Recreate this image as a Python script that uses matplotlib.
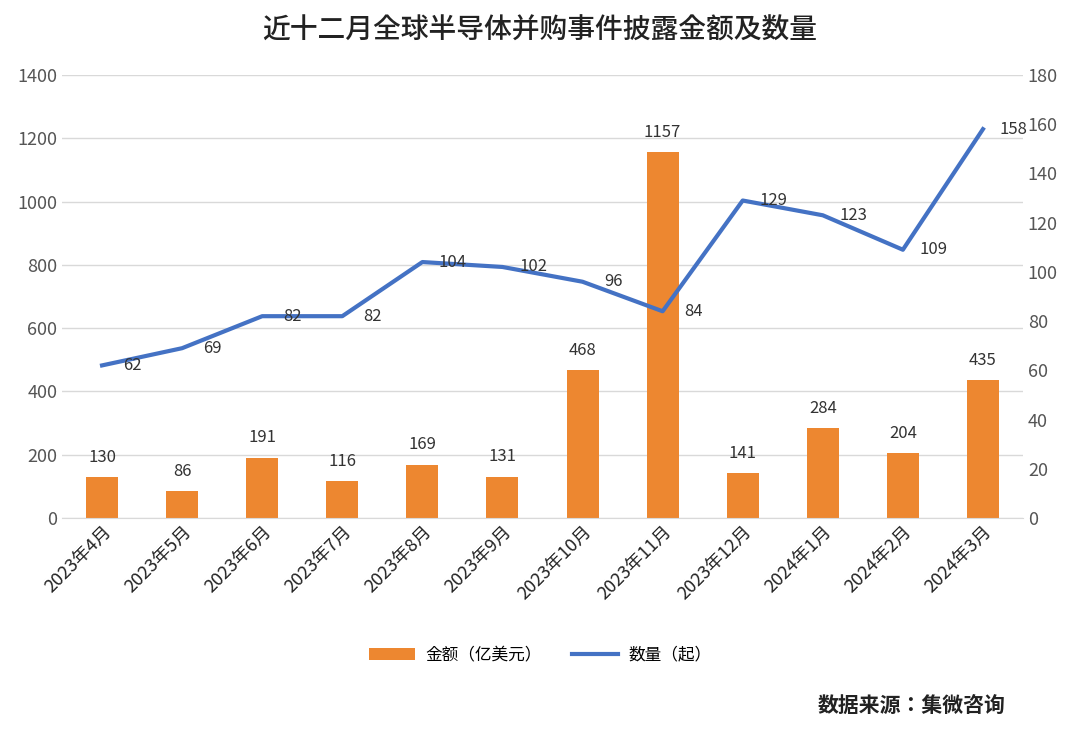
import matplotlib
matplotlib.use("Agg")
import matplotlib.pyplot as plt
from matplotlib import font_manager as fm
import glob

for f in glob.glob("/usr/share/fonts/**/*CJK*", recursive=True) + glob.glob("/usr/share/fonts/**/*cjk*", recursive=True):
    try:
        fm.fontManager.addfont(f)
    except Exception:
        pass
names = sorted({f.name for f in fm.fontManager.ttflist if "CJK" in f.name})
cjk = next((n for n in names if "SC" in n), names[0] if names else "DejaVu Sans")
plt.rcParams["font.family"] = [cjk, "DejaVu Sans"]
plt.rcParams["font.sans-serif"] = [cjk, "DejaVu Sans"]

categories = ["2023年4月","2023年5月","2023年6月","2023年7月","2023年8月","2023年9月",
              "2023年10月","2023年11月","2023年12月","2024年1月","2024年2月","2024年3月"]
amounts = [130, 86, 191, 116, 169, 131, 468, 1157, 141, 284, 204, 435]
counts = [62, 69, 82, 82, 104, 102, 96, 84, 129, 123, 109, 158]

fig = plt.figure(figsize=(10.8, 7.29), dpi=100)
ax = fig.add_axes([62/1080, 1-518/729, (1023-62)/1080, (518-75)/729])
ax2 = ax.twinx()
x = range(len(categories))
ax.bar(x, amounts, width=0.4, color="#ED8730", zorder=2, label="金额（亿美元）")
for i, v in enumerate(amounts):
    ax.annotate(str(v), (i, v), xytext=(0, 8), textcoords="offset points",
                ha="center", va="bottom", fontsize=12, color="#333333")
ax2.plot(x, counts, color="#4472C4", lw=3, zorder=3, label="数量（起）")
for i, v in enumerate(counts):
    ax2.annotate(str(v), (i, v), xytext=(22, 0), textcoords="offset points",
                 ha="center", va="center", fontsize=12, color="#333333")
ax.set_ylim(0, 1400); ax.set_yticks(range(0, 1401, 200))
ax2.set_ylim(0, 180); ax2.set_yticks(range(0, 181, 20))
ax.set_xlim(-0.5, 11.5)
ax.set_xticks(list(x))
ax.set_xticklabels(categories, rotation=45, ha="right", rotation_mode="anchor", fontsize=12)
ax.grid(axis="y", color="#D9D9D9", lw=1, zorder=0)
for a in (ax, ax2):
    for s in a.spines.values():
        s.set_visible(False)
    a.tick_params(length=0, labelsize=13, colors="#555555")
ax.tick_params(axis="x", colors="#222222")
ax.spines["bottom"].set_visible(True); ax.spines["bottom"].set_color("#D9D9D9")
h1, l1 = ax.get_legend_handles_labels()
h2, l2 = ax2.get_legend_handles_labels()
fig.legend(h1 + h2, l1 + l2, loc="center", bbox_to_anchor=(0.5, 1-655/729), ncol=2,
           frameon=False, fontsize=12, handlelength=2.8, handletextpad=0.6, columnspacing=1.8)
fig.text(0.5, 1-30/729, "近十二月全球半导体并购事件披露金额及数量", ha="center", va="center",
         fontsize=20, fontweight="medium", color="#222222")
fig.text(1005/1080, 1-705/729, "数据来源：集微咨询", ha="right", va="center",
         fontsize=15, fontweight="bold", color="#222222")
fig.savefig("out.png", dpi=100)
